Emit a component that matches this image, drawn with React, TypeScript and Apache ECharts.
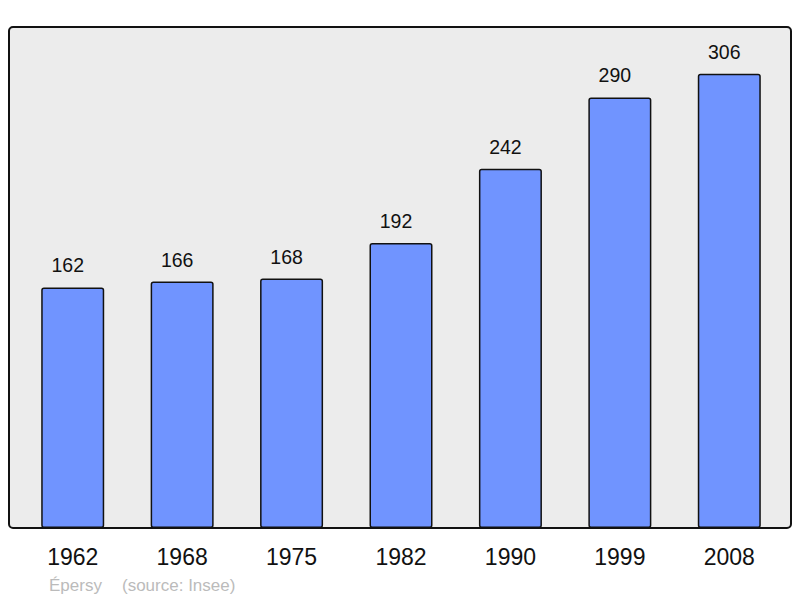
import React, { useEffect, useRef } from "react";
import * as echarts from "echarts";

const years = ["1962", "1968", "1975", "1982", "1990", "1999", "2008"];
const population = [162, 166, 168, 192, 242, 290, 306];
const commune = "Épersy";
const source = "(source: Insee)";

export default function App() {
  const ref = useRef<HTMLDivElement>(null);
  useEffect(() => {
    if (!ref.current) return;
    const chart = echarts.init(ref.current, undefined, { renderer: "svg" });
    chart.setOption({
      animation: false,
      backgroundColor: "#ffffff",
      textStyle: { fontFamily: "Liberation Sans, Arial, sans-serif" },
      graphic: [
        {
          type: "rect",
          z: -10,
          silent: true,
          shape: { x: 9, y: 27, width: 782, height: 501, r: 4 },
          style: { fill: "#ececec", stroke: "#111111", lineWidth: 2 },
        },
        {
          type: "text",
          left: 49,
          top: 577,
          style: {
            text: commune,
            fill: "#bbbbbb",
            font: "17px 'Liberation Sans', Arial, sans-serif",
          },
        },
        {
          type: "text",
          left: 122,
          top: 577,
          style: {
            text: source,
            fill: "#bbbbbb",
            font: "17px 'Liberation Sans', Arial, sans-serif",
          },
        },
      ],
      grid: { left: 18, right: 16, top: 27, bottom: 70 },
      xAxis: {
        type: "category",
        data: years,
        axisLine: { show: false },
        axisTick: { show: false },
        axisLabel: {
          color: "#111111",
          fontSize: 23,
          margin: 17,
          fontFamily: "Liberation Sans, Arial, sans-serif",
        },
      },
      yAxis: {
        type: "value",
        min: 0,
        max: 337.4,
        show: false,
        splitLine: { show: false },
      },
      series: [
        {
          type: "bar",
          data: population,
          barWidth: 63,
          itemStyle: {
            color: "#7094ff",
            borderColor: "#111111",
            borderWidth: 1.5,
            borderRadius: 2,
          },
          label: {
            show: true,
            position: "top",
            distance: 12,
            offset: [-5, 0],
            color: "#111111",
            fontSize: 19.5,
            fontFamily: "Liberation Sans, Arial, sans-serif",
          },
        },
      ],
    });
    return () => chart.dispose();
  }, []);
  return (
    <div
      ref={ref}
      style={{ position: "fixed", left: 0, top: 0, width: 800, height: 598 }}
    />
  );
}
